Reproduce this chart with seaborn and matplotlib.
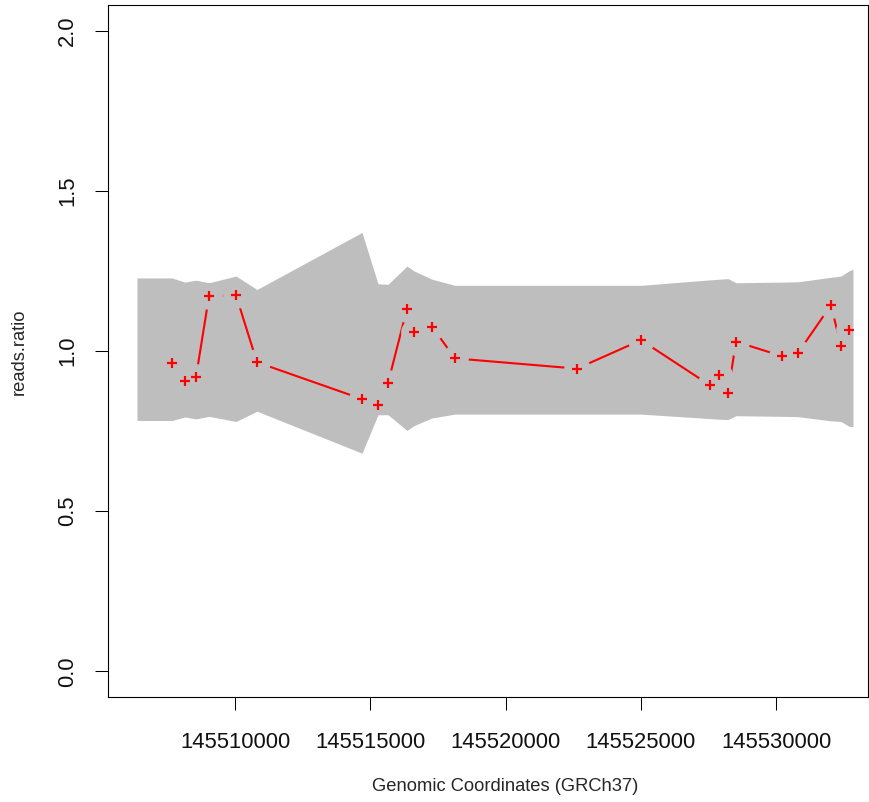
import numpy as np
import pandas as pd
import seaborn as sns
import matplotlib.pyplot as plt

# probe positions and read ratios
pos = [145507672, 145508152, 145508559, 145509039, 145510037, 145510813,
       145514694, 145515285, 145515655, 145516357, 145516616, 145517281,
       145518131, 145522640, 145525006, 145527556, 145527889, 145528221,
       145528517, 145530217, 145530808, 145532028, 145532398, 145532693]
ratio = [0.961, 0.905, 0.919, 1.171, 1.174, 0.965,
         0.850, 0.833, 0.900, 1.132, 1.059, 1.076,
         0.977, 0.945, 1.034, 0.893, 0.926, 0.870,
         1.029, 0.984, 0.994, 1.143, 1.015, 1.064]

# confidence band (normal range)
band_x = [145506378] + pos + [145532841]
band_hi = [1.228, 1.228, 1.215, 1.221, 1.213, 1.234, 1.192, 1.370, 1.210,
           1.208, 1.265, 1.250, 1.224, 1.205, 1.205, 1.205, 1.222, 1.224,
           1.226, 1.213, 1.215, 1.216, 1.230, 1.234, 1.250, 1.255]
band_lo = [0.783, 0.783, 0.794, 0.788, 0.796, 0.780, 0.812, 0.681, 0.801,
           0.801, 0.752, 0.767, 0.791, 0.803, 0.803, 0.803, 0.789, 0.787,
           0.786, 0.798, 0.796, 0.795, 0.782, 0.780, 0.765, 0.764]

xticks = [145510000, 145515000, 145520000, 145525000, 145530000]
yticks = [0.0, 0.5, 1.0, 1.5, 2.0]

df = pd.DataFrame({"pos": pos, "ratio": ratio})

sns.set_style("ticks")
plt.rcParams['font.family'] = ['Liberation Sans', 'DejaVu Sans']

fig = plt.figure(figsize=(8.7, 8.02), dpi=100)
ax = fig.add_axes([108/870, 1-697/802, 760/870, 692/802])

grey = "#BEBEBE"
band = ax.fill_between(band_x, band_lo, band_hi, color=grey, lw=0, zorder=1)

# type="b" style: line with gaps around each point
sns.lineplot(data=df, x="pos", y="ratio", color="red", lw=1.5,
             estimator=None, sort=False, ax=ax, zorder=2)
mask = ax.scatter(df["pos"], df["ratio"], s=370, color=grey, lw=0, zorder=3)
mask.set_clip_path(band.get_paths()[0], ax.transData)
sns.scatterplot(data=df, x="pos", y="ratio", marker="+", s=60,
                color="red", linewidth=1.6, ax=ax, zorder=4)

ax.set_xlim(145505306, 145533396)
ax.set_ylim(-0.08, 2.08)

ax.set_xticks(xticks)
ax.set_xticklabels([str(t) for t in xticks])
ax.set_yticks(yticks)
ax.set_yticklabels([f"{t:.1f}" for t in yticks], rotation=90, va="center")

ax.tick_params(axis="both", length=9.5, width=0.75, color="black",
               labelsize=15.8, labelcolor="#111111")
ax.tick_params(axis="x", pad=16)
ax.tick_params(axis="y", pad=12)

for s in ax.spines.values():
    s.set_linewidth(0.8)
    s.set_color("black")

ax.set_xlabel("Genomic Coordinates (GRCh37)", fontsize=13.2)
ax.set_ylabel("reads.ratio", fontsize=13.2)
ax.xaxis.set_label_coords(0.5224, (697-778)/692)
ax.yaxis.set_label_coords((28-108)/760, 0.4993)

fig.savefig("out.png", dpi=100)
